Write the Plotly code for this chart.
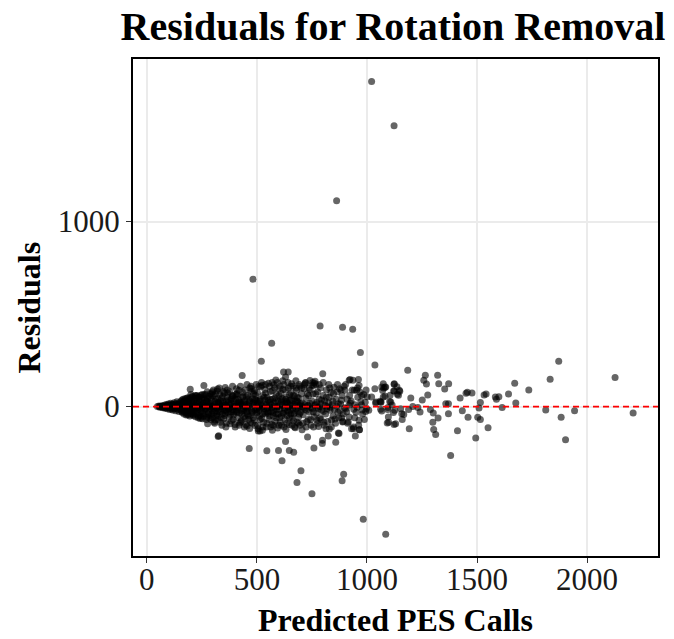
import plotly.graph_objects as go

# ---- data: (predicted PES calls, residual) ----
tip_points = [(48,0),(55,3),(58,-4),(62,2),(66,-2),(70,5),(72,-6),(75,1),(78,8),(80,-3),(83,-9),(85,4),
              (88,11),(90,-1),(93,-12),(95,6),(97,14),(100,-5),(102,2),(104,-15),(106,9),(108,18),(110,-8),
              (112,0),(115,13),(117,-18),(119,5),(121,-2),(124,21),(126,-11),(128,7),(130,-22),(132,15),
              (134,-4),(136,26),(138,2),(140,-14),(142,10),(145,-26),(147,20),(149,-7),(60,0),(68,1),(76,-2),
              (86,-5),(92,3),(98,7),(105,-3),(113,-11),(118,11),(125,1),(131,-9),(137,12),(143,-3),(148,6)]

core_150_300 = [(155,-18),(157,12),(159,35),(161,-32),(163,0),(165,24),(167,-10),(169,-40),(171,16),(173,42),
                (175,-22),(177,6),(179,-45),(181,30),(183,-5),(185,48),(187,-28),(189,18),(191,-12),(193,38),
                (195,-51),(197,94),(199,4),(200,65),(201,-36),(203,26),(205,-16),(207,55),(209,-42),(211,10),
                (213,34),(215,-24),(217,-2),(219,60),(221,-55),(223,20),(225,-8),(227,44),(229,-34),(231,14),
                (233,-60),(235,52),(237,-14),(239,28),(241,-46),(243,6),(245,62),(247,-26),(249,38),(251,-4),
                (253,-66),(255,18),(257,48),(259,114),(261,-38),(263,8),(265,-20),(267,66),(269,30),(271,-58),
                (273,-2),(275,44),(276,-92),(279,22),(281,-30),(283,56),(285,-10),(287,-48),(289,14),(291,-70),
                (293,36),(295,70),(297,-22),(299,2),(305,-83),
                (152,8),(158,-26),(164,40),(170,-4),(176,22),(182,-36),(188,2),(194,46),(200,-22),(206,30),
                (212,-48),(218,8),(224,58),(230,-16),(236,36),(242,-64),(248,12),(254,-34),(260,64),(266,-12),
                (272,28),(278,-40),(284,4),(290,48),(296,-60),(160,2),(172,-8),(184,10),(196,-2),(208,-6),
                (220,4),(232,-4),(244,-10),(256,2),(268,-6),(280,8),(292,-4),
                (154,28),(162,-20),(168,30),(174,-30),(180,44),(186,-44),(192,26),(198,-40),(204,50),(210,-30),
                (216,46),(222,-40),(228,60),(234,-50),(240,50),(246,-56),(252,66),(258,-50),(264,40),(270,-70),
                (274,80),(282,-60),(288,70),(294,-40),(298,80)]

core_300_500 = [(301,60),(304,-34),(307,12),(310,-72),(313,38),(316,-8),(319,84),(321,95),(322,-50),(324,-161),
                (326,-158),(325,20),(328,-16),(331,66),(334,-84),(337,0),(340,46),(343,-40),(346,28),(349,-66),
                (352,74),(355,-20),(356,103),(358,10),(361,-90),(364,52),(367,-30),(370,34),(373,-56),(376,80),
                (379,-6),(382,20),(385,-78),(388,60),(391,57),(394,-44),(397,14),(400,-96),(403,40),(406,-18),
                (409,70),(410,61),(412,-60),(415,4),(418,88),(421,-34),(424,24),(427,-82),(430,-74),(433,168),
                (435,50),(438,-10),(441,-54),(444,32),(447,90),(450,-98),(453,12),(455,-105),(456,-40),(459,62),
                (462,-70),(465,-226),(466,22),(468,100),(471,-86),(474,81),(477,-24),(480,44),(483,-60),(486,8),
                (489,86),(492,-102),(495,36),(498,-36),
                (303,-10),(309,28),(315,-52),(320,44),(326,-28),(332,8),(338,-62),(344,56),(350,-4),(356,-36),
                (362,30),(368,72),(374,-12),(380,-42),(386,46),(392,-70),(398,0),(404,66),(410,-30),(416,38),
                (422,-88),(428,16),(434,78),(440,-20),(446,-64),(452,54),(458,-8),(464,42),(470,-48),(476,96),
                (482,18),(488,-72),(494,60),(500,-14),
                (306,2),(318,-4),(330,14),(342,-12),(354,6),(366,-2),(378,10),(390,-16),(402,4),(414,-6),
                (426,8),(438,22),(450,-4),(462,6),(474,-12),(486,24),(498,10),
                (302,90),(308,-90),(312,70),(317,-40),(323,-70),(329,100),(335,30),(341,-100),(347,82),(353,-48),
                (359,-110),(365,90),(371,-14),(377,-92),(383,40),(389,110),(395,-30),(401,-110),(407,96),(413,20),
                (419,-100),(425,110),(431,-40),(437,56),(443,-110),(449,-20),(455,120),(461,-50),(467,-118),
                (473,110),(479,-90),(485,70),(491,-20),(497,120),
                (311,-22),(323,24),(335,-26),(347,18),(359,-20),(371,22),(383,-28),(395,30),(407,-26),(419,26),
                (431,-24),(443,16),(455,-28),(467,30),(479,-30),(491,40)]

core_500_700 = [(502,76),(505,-120),(506,-132),(508,30),(511,-52),(514,-132),(517,108),(520,245),(521,-8),
                (524,115),(525,-128),(527,60),(530,-84),(533,14),(536,92),(539,-40),(542,-110),(545,-238),
                (546,50),(549,-6),(552,126),(555,-70),(558,24),(561,82),(564,-28),(567,343),(568,-96),(570,-128),
                (571,40),(574,-50),(577,118),(580,2),(583,-80),(586,144),(588,66),(591,-18),(594,-116),(597,30),
                (598,-237),(600,96),(603,-60),(606,10),(609,72),(612,-100),(614,-292),(615,44),(618,-34),
                (621,187),(622,120),(625,-8),(628,-70),(630,160),(630,-188),(632,-123),(634,52),(637,-48),
                (640,18),(642,187),(643,100),(646,-96),(647,-237),(649,34),(652,-20),(655,74),(658,124),
                (659,-64),(662,4),(665,110),(667,-247),(668,-40),(671,58),(674,-114),(677,-12),(680,88),
                (682,-410),(683,-84),(686,26),(689,-58),(692,120),(695,6),(698,-30),(700,-347),
                (504,20),(510,-20),(516,40),(522,-64),(528,0),(534,-30),(540,72),(546,-12),(552,34),(558,-50),
                (564,10),(570,86),(576,-20),(582,48),(588,-40),(594,0),(600,60),(606,-84),(612,26),(618,92),
                (624,-16),(630,40),(636,-90),(642,-4),(648,64),(654,-40),(660,30),(666,-76),(672,12),(678,100),
                (684,-24),(690,46),(696,-100),
                (507,-4),(519,8),(531,-10),(543,14),(555,4),(567,-6),(579,20),(591,-2),(603,-14),(615,6),
                (627,16),(639,-22),(651,8),(663,-8),(675,26),(687,-6),(699,16),
                (503,-100),(509,110),(515,-70),(521,130),(527,-110),(533,50),(539,120),(545,-90),(551,-30),
                (557,110),(563,-110),(569,130),(575,-100),(581,100),(587,-60),(593,130),(599,-100),(605,110),
                (611,-50),(617,140),(623,-110),(629,90),(635,20),(641,130),(647,-60),(653,110),(659,-100),
                (665,60),(671,-110),(677,140),(683,50),(689,-90),(695,110),
                (501,-30),(513,30),(525,-40),(537,34),(549,-36),(561,40),(573,-32),(585,30),(597,-40),(609,38),
                (621,-36),(633,28),(645,-30),(657,40),(669,-34),(681,30),(693,-40)]

core_700_1000 = [(702,70),(705,-125),(706,20),(710,-44),(714,96),(718,-14),(721,130),(722,46),(726,-80),
                 (730,-164),(731,8),(733,-70),(735,60),(738,-30),(741,141),(742,90),(746,-100),(750,-471),
                 (750,30),(752,-10),(755,68),(758,114),(759,-224),(760,-56),(764,137),(765,12),(768,119),
                 (770,-36),(773,-74),(775,80),(778,-4),(780,-108),(782,40),(786,-60),(787,436),(789,100),
                 (792,16),(795,-20),(797,-199),(799,178),(800,60),(804,-84),(808,30),(812,-40),(814,-119),
                 (816,90),(820,0),(824,-159),(826,119),(828,50),(829,-121),(832,-20),(836,76),(839,-72),
                 (842,10),(846,-50),(850,104),(855,-67),(858,-192),(860,40),(865,81),(868,-30),(873,-145),
                 (876,97),(880,14),(887,-401),(887,60),(889,429),(892,-40),(894,-365),(896,110),(900,88),
                 (905,-10),(910,40),(915,-83),(919,-56),(919,142),(924,20),(930,-119),(935,418),(936,142),
                 (939,-110),(942,88),(945,10),(947,-159),(950,-30),(953,88),(958,50),(964,114),(964,-74),
                 (966,-125),(968,79),(970,292),(975,10),(980,-40),(985,66),(992,24),(998,-10),
                 (720,128),(761,128),(750,115),(923,146),(961,146),(885,-60),(889,-83),(798,-181),
                 (870,-143),(938,-119),(965,-125),
                 (705,0),(712,-8),(718,12),(725,-20),(732,4),(740,18),(748,-6),(756,-28),(763,8),(771,22),
                 (779,-12),(785,0),(794,36),(802,-26),(810,6),(818,-12),(825,20),(834,-4),(844,30),(852,-16),
                 (862,2),(870,16),(878,-22),(884,34),(898,-6),(908,-28),(918,8),(928,30),(940,-14),(955,-4),
                 (972,26),(978,-18),(994,-26),
                 (703,100),(709,-90),(716,120),(724,-110),(729,70),(737,100),(744,-70),(753,130),(757,-110),
                 (767,70),(776,-90),(783,120),(791,-70),(801,130),(806,-100),(815,50),(821,-80),(831,100),
                 (838,-110),(848,70),(857,-90),(866,120),(872,-60),(882,90),(891,-80),(903,120),(912,-90),
                 (921,60),(933,90),(944,-60),(957,100),(962,-100),(976,60),(988,-70),(996,90)]

tail_points = [(1001,54),(1008,-20),(1021,52),(1036,225),(1036,97),(1039,20),(1041,25),(1059,29),(1062,24),
               (1062,-14),(1064,25),(1067,-24),(1067,106),(1071,87),(1074,52),(1076,101),(1074,124),(1082,104),
               (1082,56),(1085,106),(1092,-89),(1094,-16),(1095,-5),(1097,-56),(1098,-85),(1103,27),(1105,61),
               (1108,25),(1114,9),(1120,-32),(1121,84),(1123,121),(1123,-97),(1124,124),(1124,84),(1126,-20),
               (1130,-92),(1136,108),(1138,67),(1143,61),(1147,88),(1149,83),(1153,-11),(1158,-38),(1160,-69),
               (1167,-42),(1185,196),(1189,-15),(1192,-119),(1199,47),(1208,0),(1231,-5),(1241,-29),(1251,36),
               (1258,142),(1265,169),(1270,122),(1276,63),(1288,-16),(1299,-85),(1301,-35),(1303,-123),
               (1312,-150),(1321,169),(1323,-62),(1326,124),(1353,95),(1358,16),(1370,16),(1370,-38),
               (1371,124),(1380,-264),(1411,-130),(1423,47),(1433,-22),(1450,72),(1456,77),(1459,-58),
               (1477,74),(1494,-170),(1503,-58),(1509,-7),(1515,22),(1515,-70),(1532,63),(1541,68),
               (1550,-114),(1583,52),(1588,40),(1599,54),(1614,-5),(1643,68),(1671,126),(1676,20),(1735,90),
               (1812,-18),(1832,148),(1871,245),(1882,-58),(1902,-179),(1943,-22),(2127,157),(2209,-35)]

outliers = [(1021,1756),(1123,1518),(862,1112),(482,688),(983,-609),(1085,-689)]

x_ticks = [0, 500, 1000, 1500, 2000]
y_ticks = [0, 1000]

all_points = tip_points + core_150_300 + core_300_500 + core_500_700 + core_700_1000 + tail_points + outliers
pred_calls = [p[0] for p in all_points]
residuals = [p[1] for p in all_points]

SERIF = "Liberation Serif, Times New Roman, serif"

fig = go.Figure()
fig.add_trace(go.Scatter(
    x=pred_calls, y=residuals, mode="markers",
    marker=dict(size=7, color="rgba(0,0,0,0.6)", line=dict(width=0)),
    showlegend=False, hoverinfo="skip"))

fig.add_hline(y=0, line=dict(color="#ff0000", width=1.8, dash="6px,4px"))

fig.update_layout(
    width=674, height=639,
    paper_bgcolor="white", plot_bgcolor="white",
    margin=dict(l=133, r=16, t=59, b=83, autoexpand=False),
    title=dict(text="<b>Residuals for Rotation Removal</b>", x=393/674, xanchor="center",
               y=1 - 26/639, yanchor="middle", yref="container",
               font=dict(family=SERIF, size=40, color="black")),
    font=dict(family=SERIF, color="black"),
    annotations=[
        dict(text="<b>Predicted PES Calls</b>", xref="paper", yref="paper", x=0.5, y=-(620-556)/497,
             xanchor="center", yanchor="middle", showarrow=False,
             font=dict(family=SERIF, size=32, color="black")),
        dict(text="<b>Residuals</b>", xref="paper", yref="paper", x=(28-133)/525, y=0.5, textangle=-90,
             xanchor="center", yanchor="middle", showarrow=False,
             font=dict(family=SERIF, size=32, color="black")),
    ],
)
fig.update_xaxes(
    range=[-63, 2322], tickvals=x_ticks, ticktext=[str(v) for v in x_ticks], automargin=False,
    showgrid=True, gridcolor="#ebebeb", gridwidth=1.5, zeroline=False,
    showline=True, linecolor="black", linewidth=2, mirror=True,
    ticks="outside", ticklen=5, tickwidth=1.2, tickcolor="#333333", ticklabelstandoff=-10,
    tickfont=dict(family=SERIF, size=31, color="#1a1a1a"))
fig.update_yaxes(
    range=[-807, 1878], tickvals=y_ticks, ticktext=[str(v) for v in y_ticks], automargin=False,
    showgrid=True, gridcolor="#ebebeb", gridwidth=1.5, zeroline=False,
    showline=True, linecolor="black", linewidth=2, mirror=True,
    ticks="outside", ticklen=5, tickwidth=1.2, tickcolor="#333333",
    tickfont=dict(family=SERIF, size=31, color="#1a1a1a"))

fig.write_html("out.html", config={"displayModeBar": False},
               post_script="document.body.style.margin='0';document.body.style.overflow='hidden';")
